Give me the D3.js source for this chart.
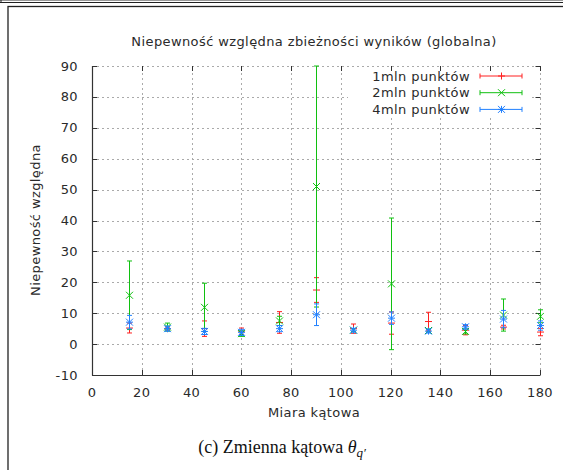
<!DOCTYPE html>
<html>
<head>
<meta charset="utf-8">
<script src="https://cdn.jsdelivr.net/npm/d3@7"></script>
<style>
  body { margin: 0; background: #fff; }
  text { font-family: "DejaVu Sans", sans-serif; fill: #2a2a2a; letter-spacing: 0.4px; }
</style>
</head>
<body>
<svg width="563" height="470"></svg>
<script>
// angles (x) and the three series: value + symmetric error
const angles = [15, 30, 45, 60, 75, 90, 105, 120, 135, 150, 165, 180];

const val1mln = [5.2, 5.0, 5.0, 4.2, 7.0, 17.5, 5.0, 6.8, 7.3, 4.5, 5.5, 3.9];
const err1mln = [1.6, 0.5, 2.5, 1.0, 3.5, 4.0, 1.5, 3.6, 3.0, 1.5, 0.6, 1.2];

const val2mln = [15.8, 5.5, 11.9, 3.4, 7.5, 51.0, 4.5, 19.5, 4.4, 4.1, 9.4, 9.0];
const err2mln = [11.1, 1.3, 7.8, 0.9, 1.5, 39.0, 0.5, 21.3, 0.5, 0.8, 5.2, 2.1];

const val4mln = [7.1, 5.0, 4.1, 3.8, 5.0, 9.5, 4.5, 8.4, 4.2, 5.6, 8.1, 6.0];
const err4mln = [2.2, 0.8, 1.0, 1.0, 1.0, 3.5, 0.6, 2.0, 0.6, 0.7, 2.8, 1.5];

const xTicks = [0, 20, 40, 60, 80, 100, 120, 140, 160, 180];
const yTicks = [-10, 0, 10, 20, 30, 40, 50, 60, 70, 80, 90];

const seriesNames = ['1mln punktów', '2mln punktów', '4mln punktów'];
const seriesColors = ['#ff2020', '#10c010', '#2080ff'];
const seriesShapes = ['plus', 'cross', 'star'];

const svg = d3.select('svg');

// outer frames (page decoration)
svg.append('line').attr('x1', 0).attr('x2', 563).attr('y1', 0.5).attr('y2', 0.5)
    .attr('stroke', '#999').attr('stroke-width', 1);
svg.append('line').attr('x1', 0).attr('x2', 563).attr('y1', 2.5).attr('y2', 2.5)
    .attr('stroke', '#222').attr('stroke-width', 1.2);
svg.append('line').attr('x1', 1).attr('x2', 1).attr('y1', 0).attr('y2', 3)
    .attr('stroke', '#222');
svg.append('rect').attr('x', 8).attr('y', 6.5).attr('width', 600).attr('height', 500)
    .attr('fill', 'none').attr('stroke', '#222').attr('stroke-width', 1.3);

const x = d3.scaleLinear().domain([0, 180]).range([92, 540]);
const y = d3.scaleLinear().domain([-10, 90]).range([375, 66]);

const g = svg.append('g');

// grid
g.append('g').selectAll('line').data(xTicks.slice(1))
    .join('line')
        .attr('x1', d => Math.round(x(d)) + 0.5).attr('x2', d => Math.round(x(d)) + 0.5)
        .attr('y1', y(-10)).attr('y2', y(90))
        .attr('stroke', '#aaa').attr('stroke-dasharray', '2,3');
g.append('g').selectAll('line').data(yTicks.slice(1))
    .join('line')
        .attr('x1', x(0)).attr('x2', x(180))
        .attr('y1', d => Math.round(y(d)) + 0.5).attr('y2', d => Math.round(y(d)) + 0.5)
        .attr('stroke', '#aaa').attr('stroke-dasharray', '2,3');

// legend background hides grid
g.append('rect').attr('x', 348).attr('y', 67).attr('width', 184).attr('height', 50)
    .attr('fill', '#fff');

// axes: left + bottom solid, ticks mirrored
const axisColor = '#333';
g.append('line').attr('x1', x(0) + 0.5).attr('x2', x(0) + 0.5)
    .attr('y1', y(90)).attr('y2', y(-10) + 0.5)
    .attr('stroke', axisColor).attr('stroke-width', 1.2);
g.append('line').attr('x1', x(0)).attr('x2', x(180) + 0.5)
    .attr('y1', y(-10) + 0.5).attr('y2', y(-10) + 0.5)
    .attr('stroke', axisColor).attr('stroke-width', 1.2);

const tl = 5;
g.append('g').selectAll('path').data(yTicks.slice(1))
    .join('path')
        .attr('d', d => {
            const yy = Math.round(y(d)) + 0.5;
            return `M${x(0)},${yy}h${tl}M${x(180) + 0.5},${yy}h${-tl}`;
        })
        .attr('stroke', axisColor);
g.append('g').selectAll('path').data(xTicks.slice(1))
    .join('path')
        .attr('d', d => {
            const xx = Math.round(x(d)) + 0.5;
            return `M${xx},${y(-10)}v${-tl}M${xx},${y(90)}v${tl}`;
        })
        .attr('stroke', axisColor);

// tick labels
g.append('g').selectAll('text').data(yTicks)
    .join('text')
        .attr('x', 78).attr('y', d => y(d) + 4.5)
        .attr('text-anchor', 'end').attr('font-size', 13)
        .text(d => d);
g.append('g').selectAll('text').data(xTicks)
    .join('text')
        .attr('x', d => x(d)).attr('y', 397)
        .attr('text-anchor', 'middle').attr('font-size', 13)
        .text(d => d);

// titles
svg.append('text').attr('x', 314).attr('y', 46).attr('text-anchor', 'middle')
    .attr('font-size', 13).text('Niepewność względna zbieżności wyników (globalna)');
svg.append('text').attr('x', 314).attr('y', 417).attr('text-anchor', 'middle')
    .attr('font-size', 13).text('Miara kątowa');
svg.append('text').attr('transform', 'translate(40,220) rotate(-90)')
    .attr('text-anchor', 'middle').attr('font-size', 13).text('Niepewność względna');

const cap = svg.append('text').attr('x', 282).attr('y', 453).attr('text-anchor', 'middle')
    .style('font-family', '"Liberation Serif", serif').style('fill', '#111')
    .style('letter-spacing', '0px').attr('font-size', 18);
cap.append('tspan').text('(c) Zmienna kątowa ');
cap.append('tspan').style('font-style', 'italic').text('θ');
cap.append('tspan').style('font-style', 'italic').attr('font-size', 13).attr('dy', 4).text('q′');

// markers
const ms = 3.5;
function marker(shape, cx, cy) {
    const p = `M${cx - ms},${cy}h${2 * ms}M${cx},${cy - ms}v${2 * ms}`;
    const c = `M${cx - ms},${cy - ms}l${2 * ms},${2 * ms}M${cx - ms},${cy + ms}l${2 * ms},${-2 * ms}`;
    if (shape === 'plus') return p;
    if (shape === 'cross') return c;
    return p + c;
}

svg.append('clipPath').attr('id', 'plotclip')
    .append('rect').attr('x', x(0)).attr('y', y(90) - 1)
    .attr('width', x(180) - x(0) + 4).attr('height', y(-10) - y(90) + 1);

const allVals = [val1mln, val2mln, val4mln];
const allErrs = [err1mln, err2mln, err4mln];
const capW = 2.5;

allVals.forEach((vals, si) => {
    const errs = allErrs[si];
    const data = angles.map((a, i) => ({a, v: vals[i], e: errs[i]}));
    const sg = svg.append('g').attr('clip-path', 'url(#plotclip)')
        .attr('stroke', seriesColors[si]).attr('fill', 'none');
    sg.selectAll('path.bar').data(data)
        .join('path').attr('class', 'bar')
            .attr('d', d => {
                const xx = Math.round(x(d.a)) + 0.5;
                const y0 = y(Math.min(90, d.v + d.e)), y1 = y(d.v - d.e);
                return `M${xx},${y0}V${y1}M${xx - capW},${y0}h${2 * capW}M${xx - capW},${y1}h${2 * capW}`;
            });
    sg.selectAll('path.pt').data(data)
        .join('path').attr('class', 'pt')
            .attr('d', d => marker(seriesShapes[si], Math.round(x(d.a)) + 0.5, y(d.v)));
});

// legend
const legend = svg.append('g');
seriesNames.forEach((name, i) => {
    const ly = 76 + i * 16.7;
    legend.append('text').attr('x', 470).attr('y', ly + 4.5).attr('text-anchor', 'end')
        .attr('font-size', 13).text(name);
    legend.append('path')
        .attr('d', `M480,${ly}H522M480,${ly - capW}v${2 * capW}M522,${ly - capW}v${2 * capW}` +
            marker(seriesShapes[i], 501.5, ly))
        .attr('stroke', seriesColors[i]).attr('fill', 'none');
});
</script>
</body>
</html>
